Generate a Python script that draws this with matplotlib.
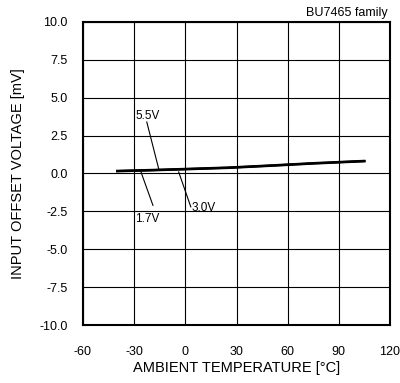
import matplotlib
matplotlib.use("Agg")
import matplotlib.pyplot as plt

plt.rcParams['font.family'] = ['Liberation Sans', 'DejaVu Sans']
plt.rcParams['axes.unicode_minus'] = False

# data
temp = [-40, -20, 0, 25, 50, 75, 105]
v_17 = [0.14, 0.20, 0.27, 0.36, 0.50, 0.65, 0.80]
v_30 = [0.16, 0.22, 0.29, 0.38, 0.52, 0.67, 0.82]
v_55 = [0.18, 0.24, 0.31, 0.40, 0.54, 0.69, 0.84]

x_ticks = [-60, -30, 0, 30, 60, 90, 120]
y_ticks = [-10, -7.5, -5, -2.5, 0, 2.5, 5, 7.5, 10]

fig = plt.figure(figsize=(4.0, 3.83), dpi=100)
ax = fig.add_axes([0.2075, 0.1514, 0.7675, 0.7912])

for v in (v_17, v_30, v_55):
    ax.plot(temp, v, color="black", linewidth=1.5)

ax.set_xlim(-60, 120)
ax.set_ylim(-10, 10)
ax.set_xticks(x_ticks)
ax.set_yticks(y_ticks)
ax.set_yticklabels([f"{t:.1f}" for t in y_ticks])
ax.tick_params(axis="x", length=0, labelsize=9, pad=15)
ax.tick_params(axis="y", length=0, labelsize=9, pad=11)
ax.grid(True, color="black", linewidth=0.8)
for s in ax.spines.values():
    s.set_linewidth(1.5)

# labels for each curve
ax.plot([-22.6, -15.6], [3.4, 0.3], color="black", linewidth=0.8)
ax.text(-29.5, 3.8, "5.5V", fontsize=8.5, va="center", ha="left")
ax.plot([-26, -19], [0.1, -2.1], color="black", linewidth=0.8)
ax.text(-29.5, -3.0, "1.7V", fontsize=8.5, va="center", ha="left")
ax.plot([-3.9, 3.2], [0.1, -2.2], color="black", linewidth=0.8)
ax.text(3.8, -2.3, "3.0V", fontsize=8.5, va="center", ha="left")

ax.set_xlabel("AMBIENT TEMPERATURE [°C]", fontsize=10.5, labelpad=2)
ax.set_ylabel("INPUT OFFSET VOLTAGE [mV]", fontsize=10.5, labelpad=10)
fig.text(0.97, 0.965, "BU7465 family", fontsize=9, ha="right", va="center")

fig.savefig("out.png", dpi=100)
